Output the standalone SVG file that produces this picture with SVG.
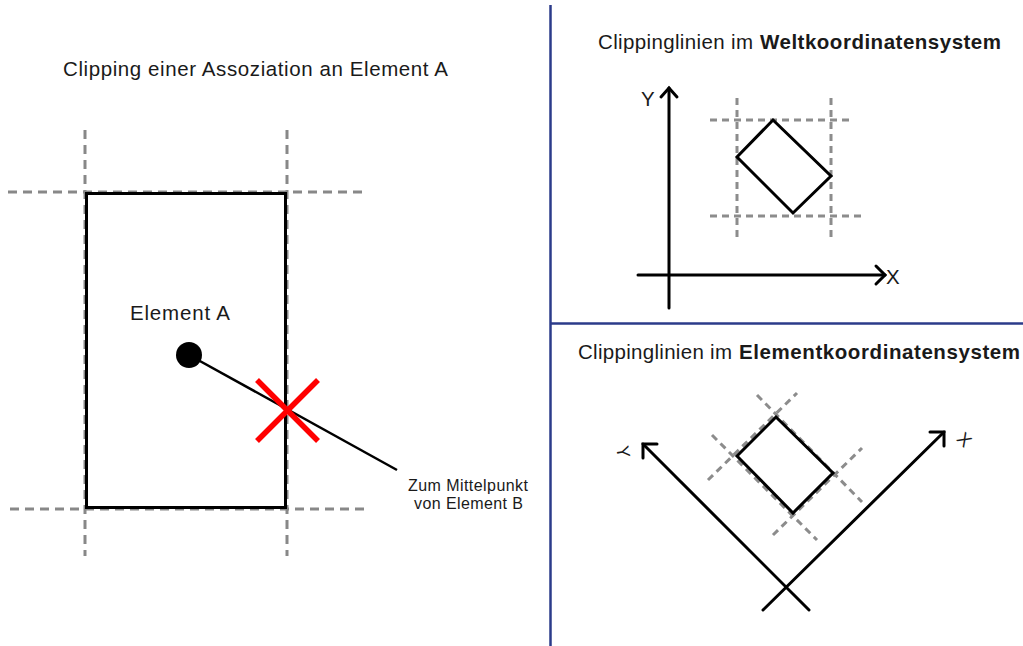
<svg xmlns="http://www.w3.org/2000/svg" width="1023" height="646" viewBox="0 0 1023 646">
<defs>
<style>
text{font-family:"Liberation Sans",Arial,sans-serif;fill:#1a1a1a}
.t{font-size:20.5px}
.b{font-weight:bold}
.s{font-size:16px}
.dash{stroke:#888;stroke-width:3;fill:none;stroke-dasharray:9 6}
.dash2{stroke:#8c8c8c;stroke-width:3;fill:none;stroke-dasharray:7 5}
.ln{stroke:#000;stroke-width:3;fill:none}
.ax{stroke:#000;stroke-width:3;fill:none;stroke-linecap:round;stroke-linejoin:miter}
.div{stroke:#2b3b8a;stroke-width:2.5}
</style>
</defs>
<rect width="1023" height="646" fill="#fff"/>
<g id="dividers">
<line class="div" x1="550.5" y1="5" x2="550.5" y2="646"/>
<line class="div" x1="550.5" y1="323.5" x2="1023" y2="323.5"/>
</g>
<g id="panel-left">
<text class="t" x="63" y="76" textLength="385" lengthAdjust="spacing">Clipping einer Assoziation an Element A</text>
<g id="clip-lines-left">
<line class="dash" x1="85" y1="130" x2="85" y2="556"/>
<line class="dash" x1="287" y1="130" x2="287" y2="556"/>
<line class="dash" x1="8" y1="192" x2="364" y2="192"/>
<line class="dash" x1="10" y1="509" x2="366" y2="509"/>
</g>
<g id="element-a">
<rect class="ln" x="86.5" y="193.5" width="199" height="314"/>
<text class="t" x="130" y="320" textLength="100" lengthAdjust="spacing">Element A</text>
<circle cx="189" cy="355" r="13" fill="#000"/>
</g>
<g id="connectors">
<line x1="189" y1="355" x2="397" y2="470" stroke="#000" stroke-width="2.5"/>
</g>
<g id="clip-point">
<line x1="257" y1="380" x2="318" y2="441" stroke="#ff0000" stroke-width="5.5"/>
<line x1="257" y1="441" x2="318" y2="380" stroke="#ff0000" stroke-width="5.5"/>
</g>
<text class="s" x="408" y="491" textLength="120" lengthAdjust="spacing">Zum Mittelpunkt</text>
<text class="s" x="414" y="509" textLength="109" lengthAdjust="spacing">von Element B</text>
</g>
<g id="panel-world">
<text class="t" x="598" y="49" textLength="155" lengthAdjust="spacing">Clippinglinien im</text>
<text class="t b" x="760" y="49" textLength="241" lengthAdjust="spacing">Weltkoordinatensystem</text>
<g id="world-axes">
<line class="ax" x1="669" y1="308" x2="669" y2="88"/>
<polyline class="ax" points="661,97 669,88 677,97"/>
<line class="ax" x1="638" y1="275" x2="885" y2="275"/>
<polyline class="ax" points="876,266 885,275 876,284"/>
<text class="t" x="641" y="106">Y</text>
<text class="t" x="886" y="284">X</text>
</g>
<g id="world-clip-lines">
<line class="dash2" x1="710" y1="120" x2="852" y2="120"/>
<line class="dash2" x1="710" y1="216" x2="866" y2="216"/>
<line class="dash2" x1="737" y1="98" x2="737" y2="238"/>
<line class="dash2" x1="831" y1="98" x2="831" y2="240"/>
</g>
<g id="world-element">
<polygon class="ln" stroke-width="2.5" points="773,120 831,176 793,213 737,157"/>
</g>
</g>
<g id="panel-element">
<text class="t" x="578" y="359" textLength="154" lengthAdjust="spacing">Clippinglinien im</text>
<text class="t b" x="739" y="359" textLength="281" lengthAdjust="spacing">Elementkoordinatensystem</text>
<g id="element-axes">
<line class="ax" x1="809" y1="610" x2="643" y2="444"/>
<polyline class="ax" points="657,444 643,444 643,458"/>
<line class="ax" x1="763" y1="610" x2="944" y2="432"/>
<polyline class="ax" points="930,432 944,432 944,446"/>
<text x="0" y="0" font-size="18" text-anchor="middle" transform="translate(617,453) rotate(80)">Y</text>
<text x="0" y="0" font-size="18" text-anchor="middle" transform="translate(960,444) rotate(45)">X</text>
</g>
<g id="element-clip-lines">
<line class="dash2" x1="708" y1="480" x2="797" y2="393"/>
<line class="dash2" x1="773" y1="535" x2="862" y2="448"/>
<line class="dash2" x1="757" y1="395" x2="862" y2="502"/>
<line class="dash2" x1="712" y1="435" x2="817" y2="540"/>
</g>
<g id="element-rect">
<polygon class="ln" stroke-width="2.5" points="776,417 833,473 793,513 737,456"/>
</g>
</g>
</svg>
